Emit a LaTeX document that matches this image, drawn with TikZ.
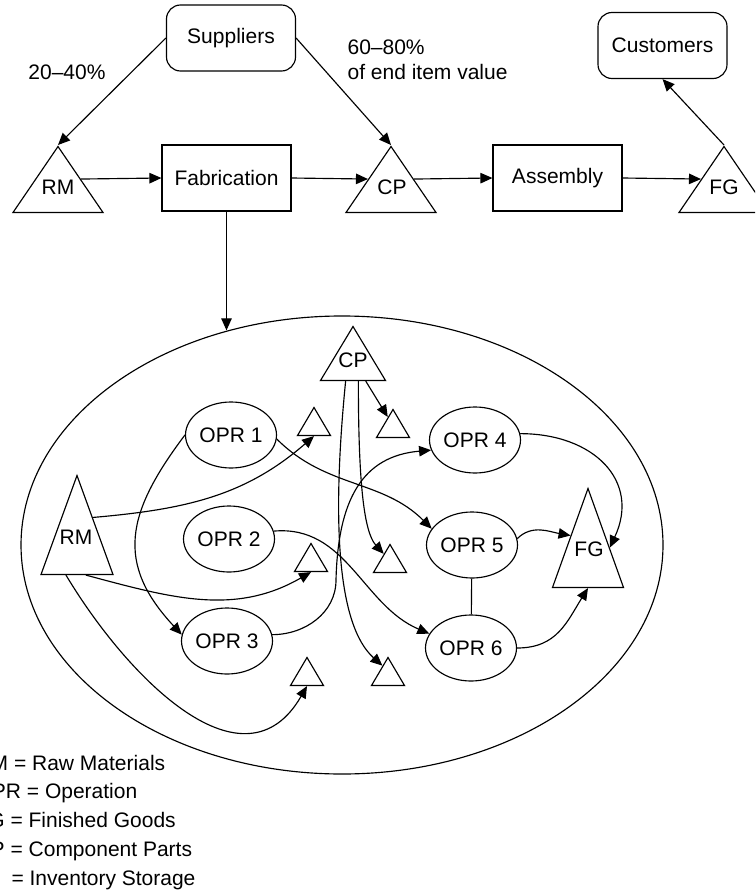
\documentclass[tikz,border=0pt]{standalone}
\usepackage{fontspec}
\setmainfont{Liberation Sans}
\newfontfamily\trisymfont{DejaVu Sans}
\usetikzlibrary{shapes.geometric, arrows.meta, calc}
\begin{document}
\begin{tikzpicture}[x=1pt, y=1pt, line width=1.15pt,
  every node/.style={font=\fontsize{21}{24}\selectfont, inner sep=0pt},
  box/.style={draw, minimum width=129pt, minimum height=66pt},
  rbox/.style={box, rounded corners=14pt},
  tri/.style={draw, isosceles triangle, isosceles triangle stretches, shape border rotate=90, inner sep=0pt, anchor=apex},
  bigtri/.style={tri, minimum width=90pt, minimum height=66pt},
  inv/.style={tri, minimum width=33pt, minimum height=28pt},
  opr/.style={draw, ellipse, minimum width=91pt, minimum height=66pt},
  arr/.style={-{Triangle[length=12pt,width=10.5pt]}},
  legend/.style={anchor=base west}]
\useasboundingbox (0,0) rectangle (755,-891);
\clip (0,0) rectangle (755,-891);

% top row
\node[rbox] (sup) at (231,-38) {Suppliers};
\node[rbox] (cus) at (662.5,-45.5) {Customers};
\node[box] (fab) at (226.5,-178) {Fabrication};
\node[box] (asm) at (557.5,-178) {Assembly};
\node[bigtri] (rm1) at (58,-145) {};
\node[bigtri] (cp1) at (391,-145) {};
\node[bigtri] (fg1) at (724,-145) {};
\node (rm1l) at (58,-187) {RM};
\node (cp1l) at (392,-187) {CP};
\node (fg1l) at (724,-187) {FG};
\node[anchor=base] (pct1) at (67,-79) {20--40\%};
\node[anchor=base west] (pct2a) at (347,-55) {60--80\%};
\node[anchor=base west] (pct2b) at (347,-79) {of end item value};

% big ellipse
\node[draw, ellipse, minimum width=642pt, minimum height=458pt] (big) at (342,-545) {};

% inner nodes
\node[tri, minimum width=65pt, minimum height=54pt] (cp2) at (353,-325) {};
\node[tri, minimum width=72pt, minimum height=99pt] (rm2) at (77,-474) {};
\node[tri, minimum width=71pt, minimum height=99pt] (fg2) at (588,-487) {};
\node (cp2l) at (353,-360) {CP};
\node (rm2l) at (76,-537.5) {RM};
\node (fg2l) at (589,-549) {FG};
\node[inv] (t1) at (314,-406) {};
\node[inv] (t2) at (393,-408) {};
\node[inv] (t3) at (311,-542) {};
\node[inv] (t4) at (390,-543) {};
\node[inv] (t5) at (307,-656) {};
\node[inv] (t6) at (388,-656) {};
\node[opr] (opr1) at (231,-435) {OPR 1};
\node[opr] (opr2) at (229,-539) {OPR 2};
\node[opr] (opr3) at (227,-641) {OPR 3};
\node[opr] (opr4) at (475,-440) {OPR 4};
\node[opr] (opr5) at (472,-545) {OPR 5};
\node[opr] (opr6) at (471,-648) {OPR 6};

% legend
\node[legend] (lg1) at (-25,-770) {RM = Raw Materials};
\node[legend] (lg2) at (-25,-798.5) {OPR = Operation};
\node[legend] (lg3) at (-25,-827) {FG = Finished Goods};
\node[legend] (lg4) at (-25,-856) {CP = Component Parts};
\node[legend] (lg5) at (-25,-885) {\makebox[36pt][l]{\trisymfont △}= Inventory Storage};

% top connectors
\draw[arr] (sup.west) -- (rm1.apex);
\draw[arr] (sup.east) -- (cp1.apex);
\draw[arr] (rm1.right side) -- (fab.west);
\draw[arr] (fab.east) -- (cp1.left side);
\draw[arr] (cp1.right side) -- (asm.west);
\draw[arr] (asm.east) -- (fg1.left side);
\draw[arr] (fg1.apex) -- (cus.south);
\draw[arr] (fab.south) -- (fab.south |- big.118);

% inner connectors
\draw[arr] ($(rm2.apex)!0.43!(rm2.right corner)$) to[out=5, in=221] (t1.lower side);
\draw[arr] ($(rm2.left corner)!0.62!(rm2.right corner)$) to[out=-15, in=210] (t3.lower side);
\draw[arr] ($(rm2.left corner)!0.35!(rm2.right corner)$) to[out=-59, in=240, looseness=1.2] (t5.lower side);
\draw[arr] (opr1.west) to[out=233, in=133, looseness=1.25] (opr3.172);
\draw[arr] (opr1.-5) to[out=-45, in=135] (opr5.158);
\draw[arr] (opr2.10) to[out=5, in=157] (opr6.161);
\coordinate (bend) at (336,-580);
\draw[arr] (opr3.8) to[out=0, in=-90] (bend) .. controls +(2,80) and +(-69,-6) .. (opr4.193);
\draw[arr] ($(cp2.left corner)!0.69!(cp2.right corner)$) -- ($(t2.apex)!0.3!(t2.left corner)$);
\draw[arr] ($(cp2.left corner)!0.58!(cp2.right corner)$) .. controls +(0,-100) and +(-20,22) .. ($(t4.apex)!0.36!(t4.left corner)$);
\draw[arr] ($(cp2.left corner)!0.39!(cp2.right corner)$) .. controls +(-14,-141) and +(-45,40) .. ($(t6.apex)!0.32!(t6.left corner)$);
\draw[arr] (opr4.8) to[out=0, in=65, looseness=1.3] ($(fg2.apex)!0.6!(fg2.right corner)$);
\draw[arr] (opr5.8) to[out=45, in=170] ($(fg2.apex)!0.48!(fg2.left corner)$);
\draw (opr5) -- (opr6);
\draw[arr] (opr6.east) to[out=0, in=238, looseness=1.1] (fg2.lower side);
\end{tikzpicture}
\end{document}
